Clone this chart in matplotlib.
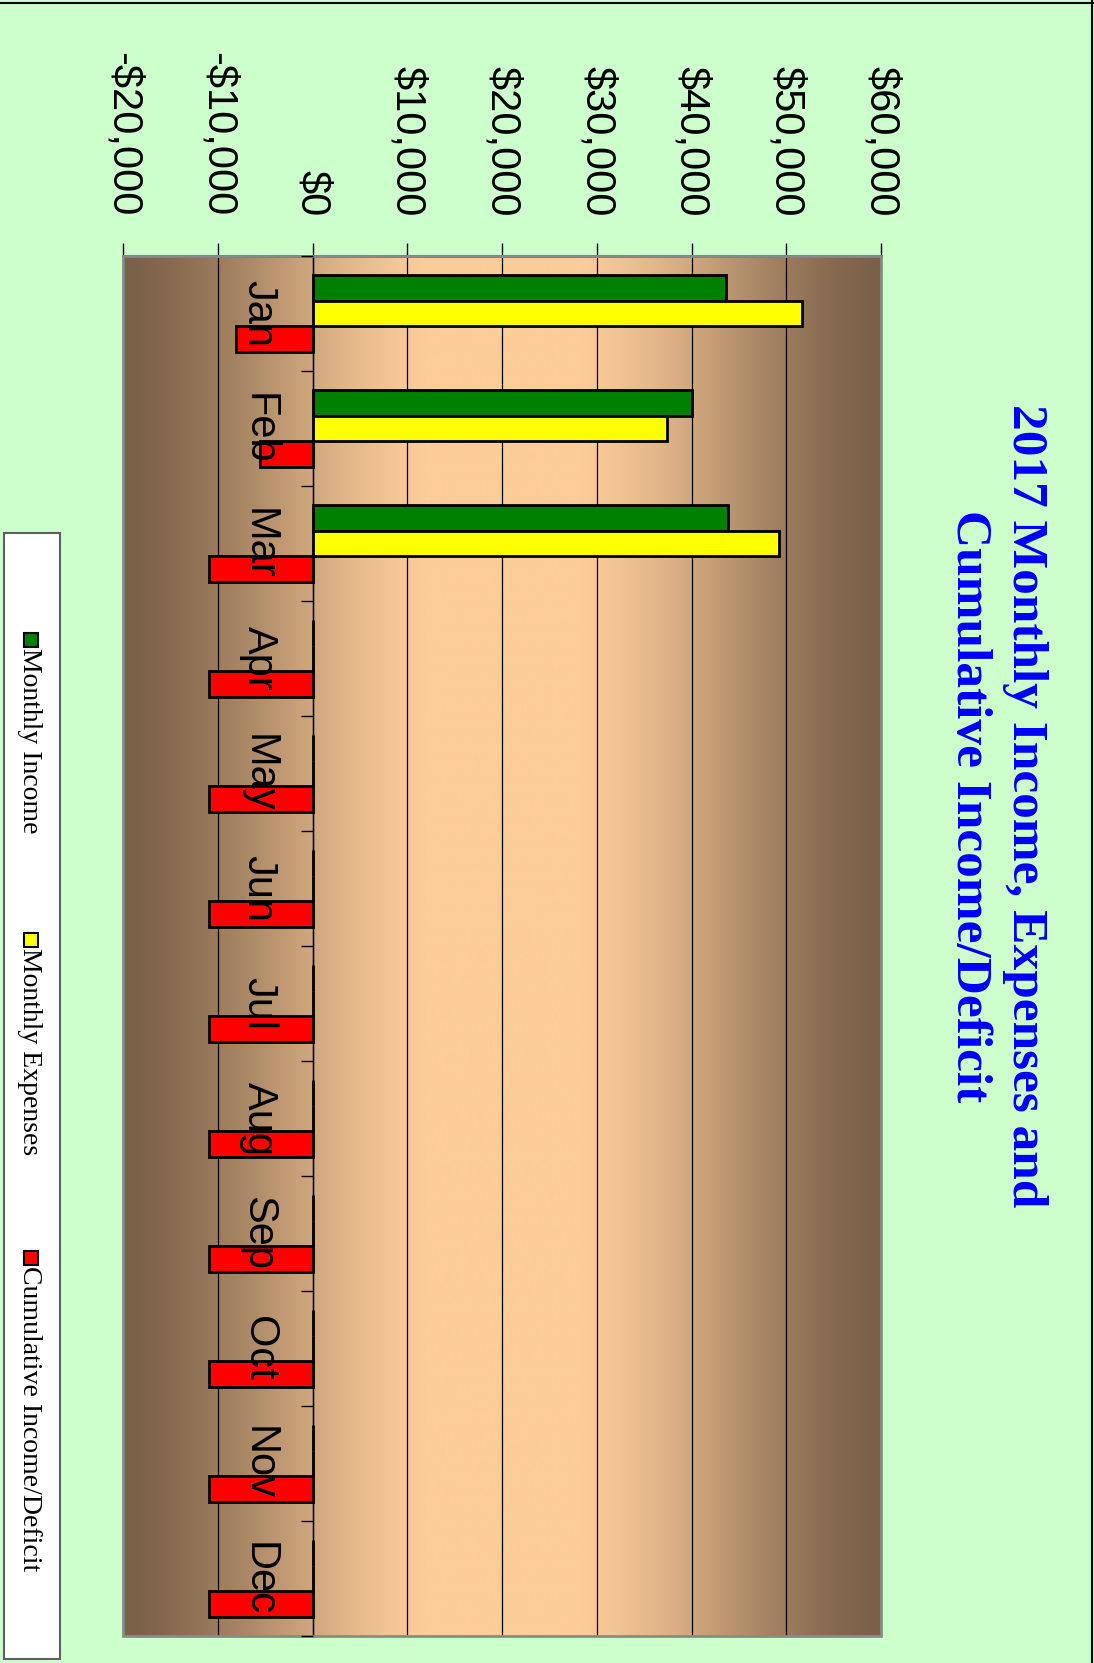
import numpy as np
import matplotlib
matplotlib.use("Agg")
import matplotlib.pyplot as plt
from matplotlib.patches import Rectangle
from matplotlib.lines import Line2D
from matplotlib.ticker import FuncFormatter

# ---------------- data ----------------
months = ["Jan", "Feb", "Mar", "Apr", "May", "Jun",
          "Jul", "Aug", "Sep", "Oct", "Nov", "Dec"]
monthly_income = [43600, 40000, 43800, 0, 0, 0, 0, 0, 0, 0, 0, 0]
monthly_expenses = [51700, 37400, 49200, 0, 0, 0, 0, 0, 0, 0, 0, 0]
cumulative = [-8100, -5500, -10900, -10900, -10900, -10900,
              -10900, -10900, -10900, -10900, -10900, -10900]
value_ticks = [-20000, -10000, 0, 10000, 20000, 30000, 40000, 50000, 60000]
series_names = ["Monthly Income", "Monthly Expenses", "Cumulative Income/Deficit"]
series_colors = ["#008000", "#FFFF00", "#FF0000"]
title = "2017 Monthly Income, Expenses and\nCumulative Income/Deficit"

W, H = 1094, 1663
fig = plt.figure(figsize=(W / 100, H / 100), dpi=100)
fig.patch.set_facecolor("#CCFFCC")

ax = fig.add_axes([123 / W, 27 / H, 758 / W, 1380 / H])

# gradient background (brown edges, peach centre)
n = 400
t = np.linspace(0, 1, n)
c = 1 - np.abs(t - 0.5) * 2
c = np.clip(c * 1.25, 0, 1)
c = 0.5 - 0.5 * np.cos(np.pi * c) * 0.6 + (c - 0.5) * 0.4
c = np.clip(c, 0, 1)
brown = np.array([122, 96, 72]) / 255
peach = np.array([252, 204, 153]) / 255
img = brown[None, :] + (peach - brown)[None, :] * c[:, None]
ax.imshow(img[None, :, :], extent=[0, 1, 0, 1], transform=ax.transAxes,
          aspect="auto", zorder=0, interpolation="bilinear")

y = np.arange(len(months))
bh = 0.226
ax.barh(y - bh, monthly_income, height=bh, color=series_colors[0],
        edgecolor="black", linewidth=2, zorder=2, label=series_names[0])
ax.barh(y, monthly_expenses, height=bh, color=series_colors[1],
        edgecolor="black", linewidth=2, zorder=2, label=series_names[1])
ax.barh(y + bh, cumulative, height=bh, color=series_colors[2],
        edgecolor="black", linewidth=2, zorder=2, label=series_names[2])

ax.set_xlim(value_ticks[0], value_ticks[-1])
ax.set_ylim(len(months) - 0.5, -0.5)

# value axis on top
ax.xaxis.set_ticks_position("top")
ax.set_xticks(value_ticks)
ax.xaxis.set_major_formatter(FuncFormatter(
    lambda v, p: ("-$" if v < 0 else "$") + f"{abs(int(v)):,}"))
ax.tick_params(axis="x", which="major", direction="out", length=9.4, width=1,
               pad=19, labelsize=30, labelrotation=-90, colors="black")
for lab in ax.get_xticklabels():
    lab.set_fontfamily("Liberation Sans")
ax.grid(axis="x", color="black", linewidth=0.9)
ax.set_axisbelow(True)

# category axis at zero
ax.spines["left"].set_position(("data", 0))
ax.spines["left"].set_color("black")
ax.spines["left"].set_linewidth(1)
ax.spines["left"].set_zorder(3)
ax.set_yticks(y)
ax.set_yticklabels(months, rotation=-90, va="center", fontsize=30,
                   fontfamily="Liberation Sans")
ax.set_yticks(np.arange(-0.5, len(months) + 0.5, 1), minor=True)
ax.tick_params(axis="y", which="major", length=0, pad=34 * 0.72)
ax.tick_params(axis="y", which="minor", direction="out", length=8.6,
               width=1, color="black")
ax.yaxis.set_zorder(5)

for s in ["right", "bottom"]:
    ax.spines[s].set_visible(False)
ax.spines["top"].set_color("#404040")
ax.spines["top"].set_linewidth(2)
ax.add_patch(Rectangle((0, 0), 1, 1, transform=ax.transAxes, fill=False,
                       edgecolor="#8A8A8A", linewidth=2, zorder=3.5,
                       clip_on=False))

# title
fig.text(997 / W, 1 - 806 / H, title, rotation=-90, ha="center", va="center",
         fontsize=37, fontweight="bold", fontfamily="Liberation Serif",
         color="#0000FF", multialignment="center", linespacing=1.3)

# legend (rotated)
fig.patches.append(Rectangle((4 / W, 1 - 1659 / H), 56 / W, (1659 - 533) / H,
                             transform=fig.transFigure, facecolor="white",
                             edgecolor="#606060", linewidth=1.5))
entry_tops = [633, 933, 1251]
for top, name, col in zip(entry_tops, series_names, series_colors):
    fig.patches.append(Rectangle((24 / W, 1 - (top + 14) / H), 14 / W, 14 / H,
                                 transform=fig.transFigure, facecolor=col,
                                 edgecolor="black", linewidth=1.5))
    fig.text(29 / W, 1 - (top + 15) / H, name, rotation=-90, ha="center",
             va="top", fontsize=20, fontfamily="Liberation Serif",
             color="black")

# outer frame lines (top and right)
fig.lines.append(Line2D([0, 1], [1 - 3 / H, 1 - 3 / H], transform=fig.transFigure,
                        color="black", linewidth=1.5))
fig.lines.append(Line2D([1 - 2 / W, 1 - 2 / W], [0, 1], transform=fig.transFigure,
                        color="black", linewidth=1.5))

fig.savefig("out.png", dpi=100, facecolor=fig.get_facecolor())
